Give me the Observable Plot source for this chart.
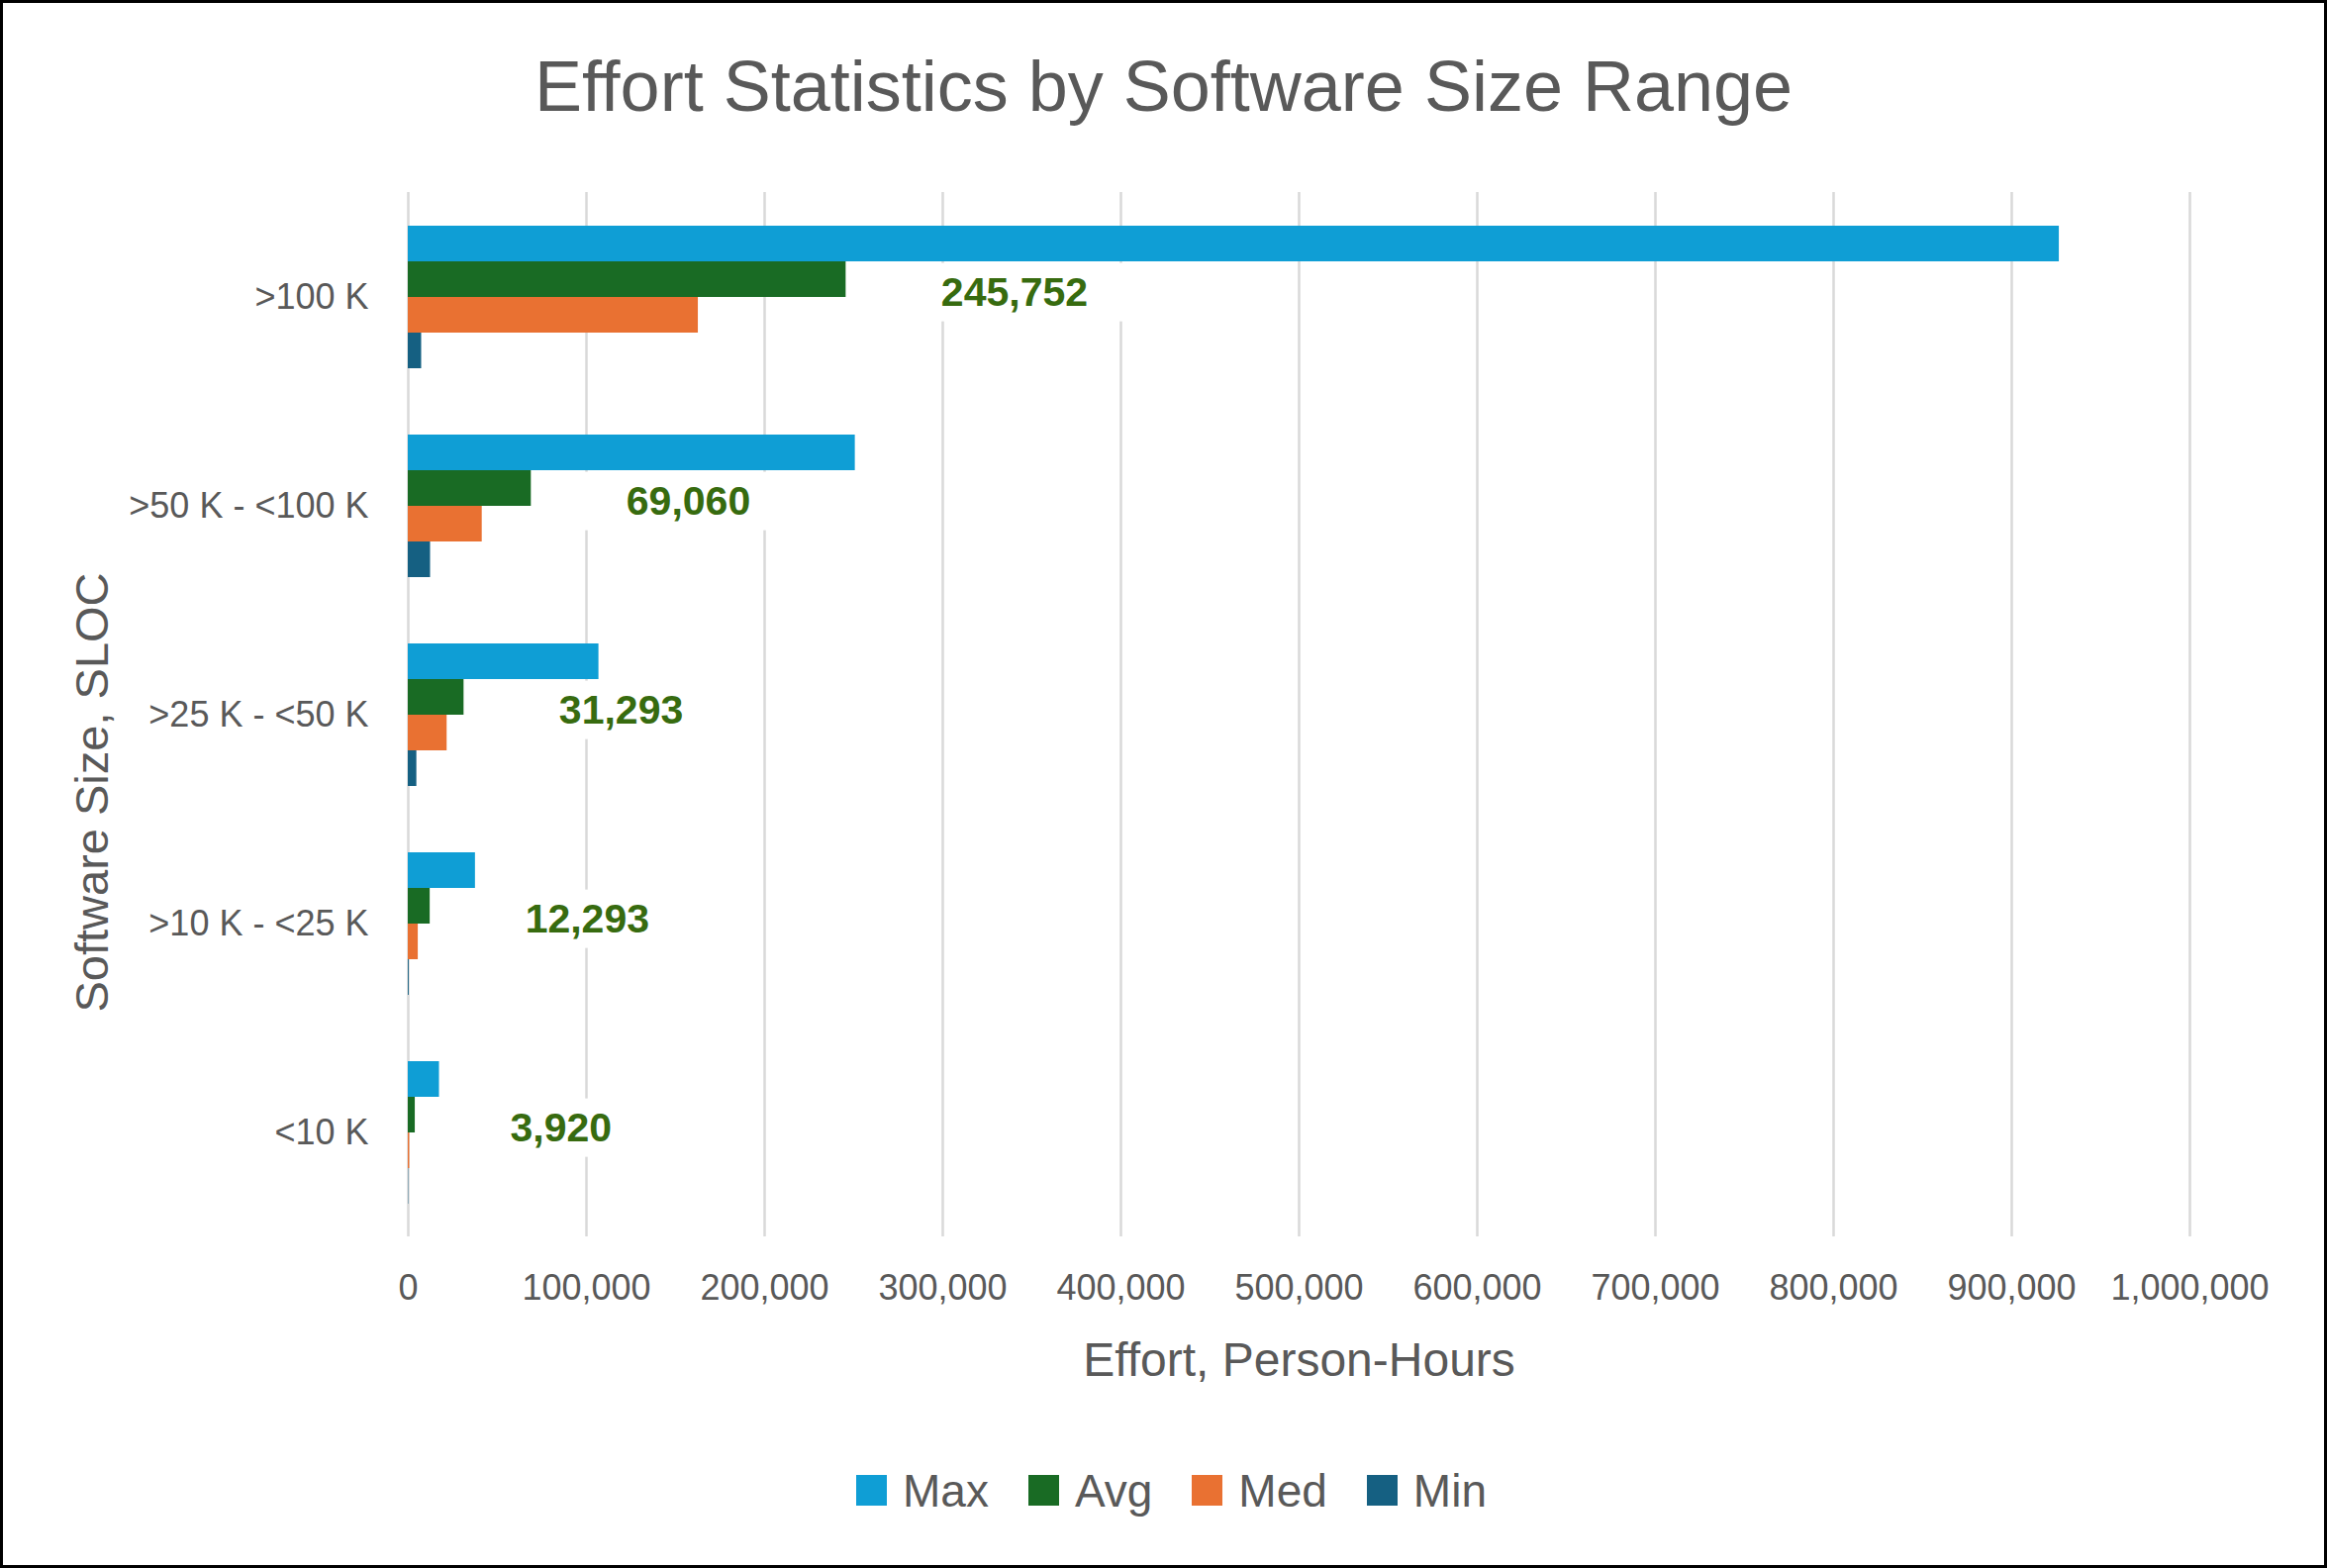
<!DOCTYPE html>
<html>
<head>
<meta charset="utf-8">
<script src="https://cdn.jsdelivr.net/npm/d3@7"></script>
<script src="https://cdn.jsdelivr.net/npm/@observablehq/plot@0.6"></script>
<style>
  html, body { margin: 0; padding: 0; background: #fff; }
  #chart { position: relative; width: 2351px; height: 1584px; background: #fff; overflow: hidden;
           font-family: "Liberation Sans", Arial, sans-serif; color: #595959; }
  #title { position: absolute; left: 0; top: 51px; width: 2351px; text-align: center;
           font-size: 72px; line-height: 72px; color: #595959; white-space: nowrap; }
  #plot { position: absolute; left: 0; top: 0; }
  #legend { position: absolute; left: 0; top: 1487px; width: 2351px; height: 60px;
            display: flex; align-items: center; justify-content: center; }
  #legend .lg-swatches { font-family: "Liberation Sans", Arial, sans-serif; font-size: 46px; color: #595959; min-height: 0 !important; margin-left: 16px; }
  #legend .lg-swatch { margin-right: 40px !important; }
  #legend .lg-swatch:last-child { margin-right: 0 !important; }
  #legend .lg-swatch > svg { margin-right: 16px !important; }
  #frame { position: absolute; left: 0; top: 0; width: 2351px; height: 1584px; box-sizing: border-box;
           border: 3px solid #000; pointer-events: none; }
</style>
</head>
<body>
<div id="chart">
  <div id="title">Effort Statistics by Software Size Range</div>
  <div id="plot"></div>
  <div id="legend"></div>
  <div id="frame"></div>
</div>
<script>
// ---- data ----
const categories = [">100 K", ">50 K - <100 K", ">25 K - <50 K", ">10 K - <25 K", "<10 K"];
const series = ["Max", "Avg", "Med", "Min"];
const maxValues = [926700, 250900, 107000, 37700, 17500];
const avgValues = [245752, 69060, 31293, 12293, 3920];
const medValues = [162800, 41500, 21800, 5600, 800];
const minValues = [7500, 12500, 4800, 500, 200];
const seriesColors = ["#0F9ED5", "#196B24", "#E97132", "#156082"];
const xTicks = [0, 100000, 200000, 300000, 400000, 500000, 600000, 700000, 800000, 900000, 1000000];
const xLabel = "Effort, Person-Hours";
const yLabel = "Software Size, SLOC";

const valuesBySeries = [maxValues, avgValues, medValues, minValues];
const rows = categories.flatMap((c, i) =>
  series.map((s, j) => ({category: c, series: s, value: valuesBySeries[j][i]})));
const avgRows = rows.filter(d => d.series === "Avg");

const fmt = d3.format(",");
const W = 2351, H = 1440;

const plot = Plot.plot({
  width: W,
  height: H,
  marginLeft: 412,
  marginRight: 139,
  marginTop: 194,
  marginBottom: H - 1249,
  style: {fontFamily: "Liberation Sans, Arial, sans-serif", color: "#595959", background: "transparent", overflow: "visible"},
  x: {domain: [0, 1000000], label: xLabel},
  fy: {domain: categories, padding: 0, label: null},
  y: {domain: series, paddingInner: 0, paddingOuter: 0.906, axis: null},
  color: {domain: series, range: seriesColors},
  marks: [
    Plot.gridX(xTicks, {stroke: "#D9D9D9", strokeOpacity: 1, strokeWidth: 2.5}),
    Plot.barX(rows, {x: "value", y: "series", fy: "category", fill: "series"}),
    Plot.text(avgRows, {
      x: "value", fy: "category", text: d => fmt(d.value),
      dx: 96, dy: -4, textAnchor: "start", fontSize: 41, fontWeight: "bold",
      fill: "#376B0F", ariaDescription: "avg labels"
    }),
    Plot.axisFy({anchor: "left", tickSize: 0, tickPadding: 40, fontSize: 36, fill: "#595959", label: null}),
    Plot.axisX({
      ticks: xTicks, tickFormat: fmt, tickSize: 0, tickPadding: 38, fontSize: 36, fill: "#595959",
      label: xLabel, labelAnchor: "center", labelOffset: 140, labelArrow: "none"
    }),
    Plot.text([yLabel], {
      text: d => d, frameAnchor: "left", facet: "super", rotate: -90,
      dx: -319, dy: 78.5, fontSize: 47, fill: "#595959", textAnchor: "middle", lineAnchor: "middle"
    })
  ]
});
document.getElementById("plot").appendChild(plot);

// enlarge x-axis title font
const xl = plot.querySelector('g[aria-label="x-axis label"]');
if (xl) {
  xl.setAttribute("font-size", 48);
  xl.querySelectorAll("text").forEach(t => t.setAttribute("font-size", 48));
}

// white boxes behind data labels (as in the original)
plot.querySelectorAll('g[aria-description="avg labels"]').forEach(g => {
  g.querySelectorAll("text").forEach(t => {
    const b = t.getBBox();
    const r = document.createElementNS("http://www.w3.org/2000/svg", "rect");
    const cy = b.y + b.height / 2;
    r.setAttribute("x", b.x - 54);
    r.setAttribute("y", cy - 29.5);
    r.setAttribute("width", b.width + 108);
    r.setAttribute("height", 59);
    r.setAttribute("fill", "#fff");
    r.setAttribute("stroke", "none");
    if (t.getAttribute("transform")) r.setAttribute("transform", t.getAttribute("transform"));
    t.parentNode.insertBefore(r, t);
  });
});

// legend
const legend = Plot.legend({
  color: {domain: series, range: seriesColors},
  legend: "swatches",
  swatchSize: 31,
  className: "lg"
});
document.getElementById("legend").appendChild(legend);
</script>
</body>
</html>
